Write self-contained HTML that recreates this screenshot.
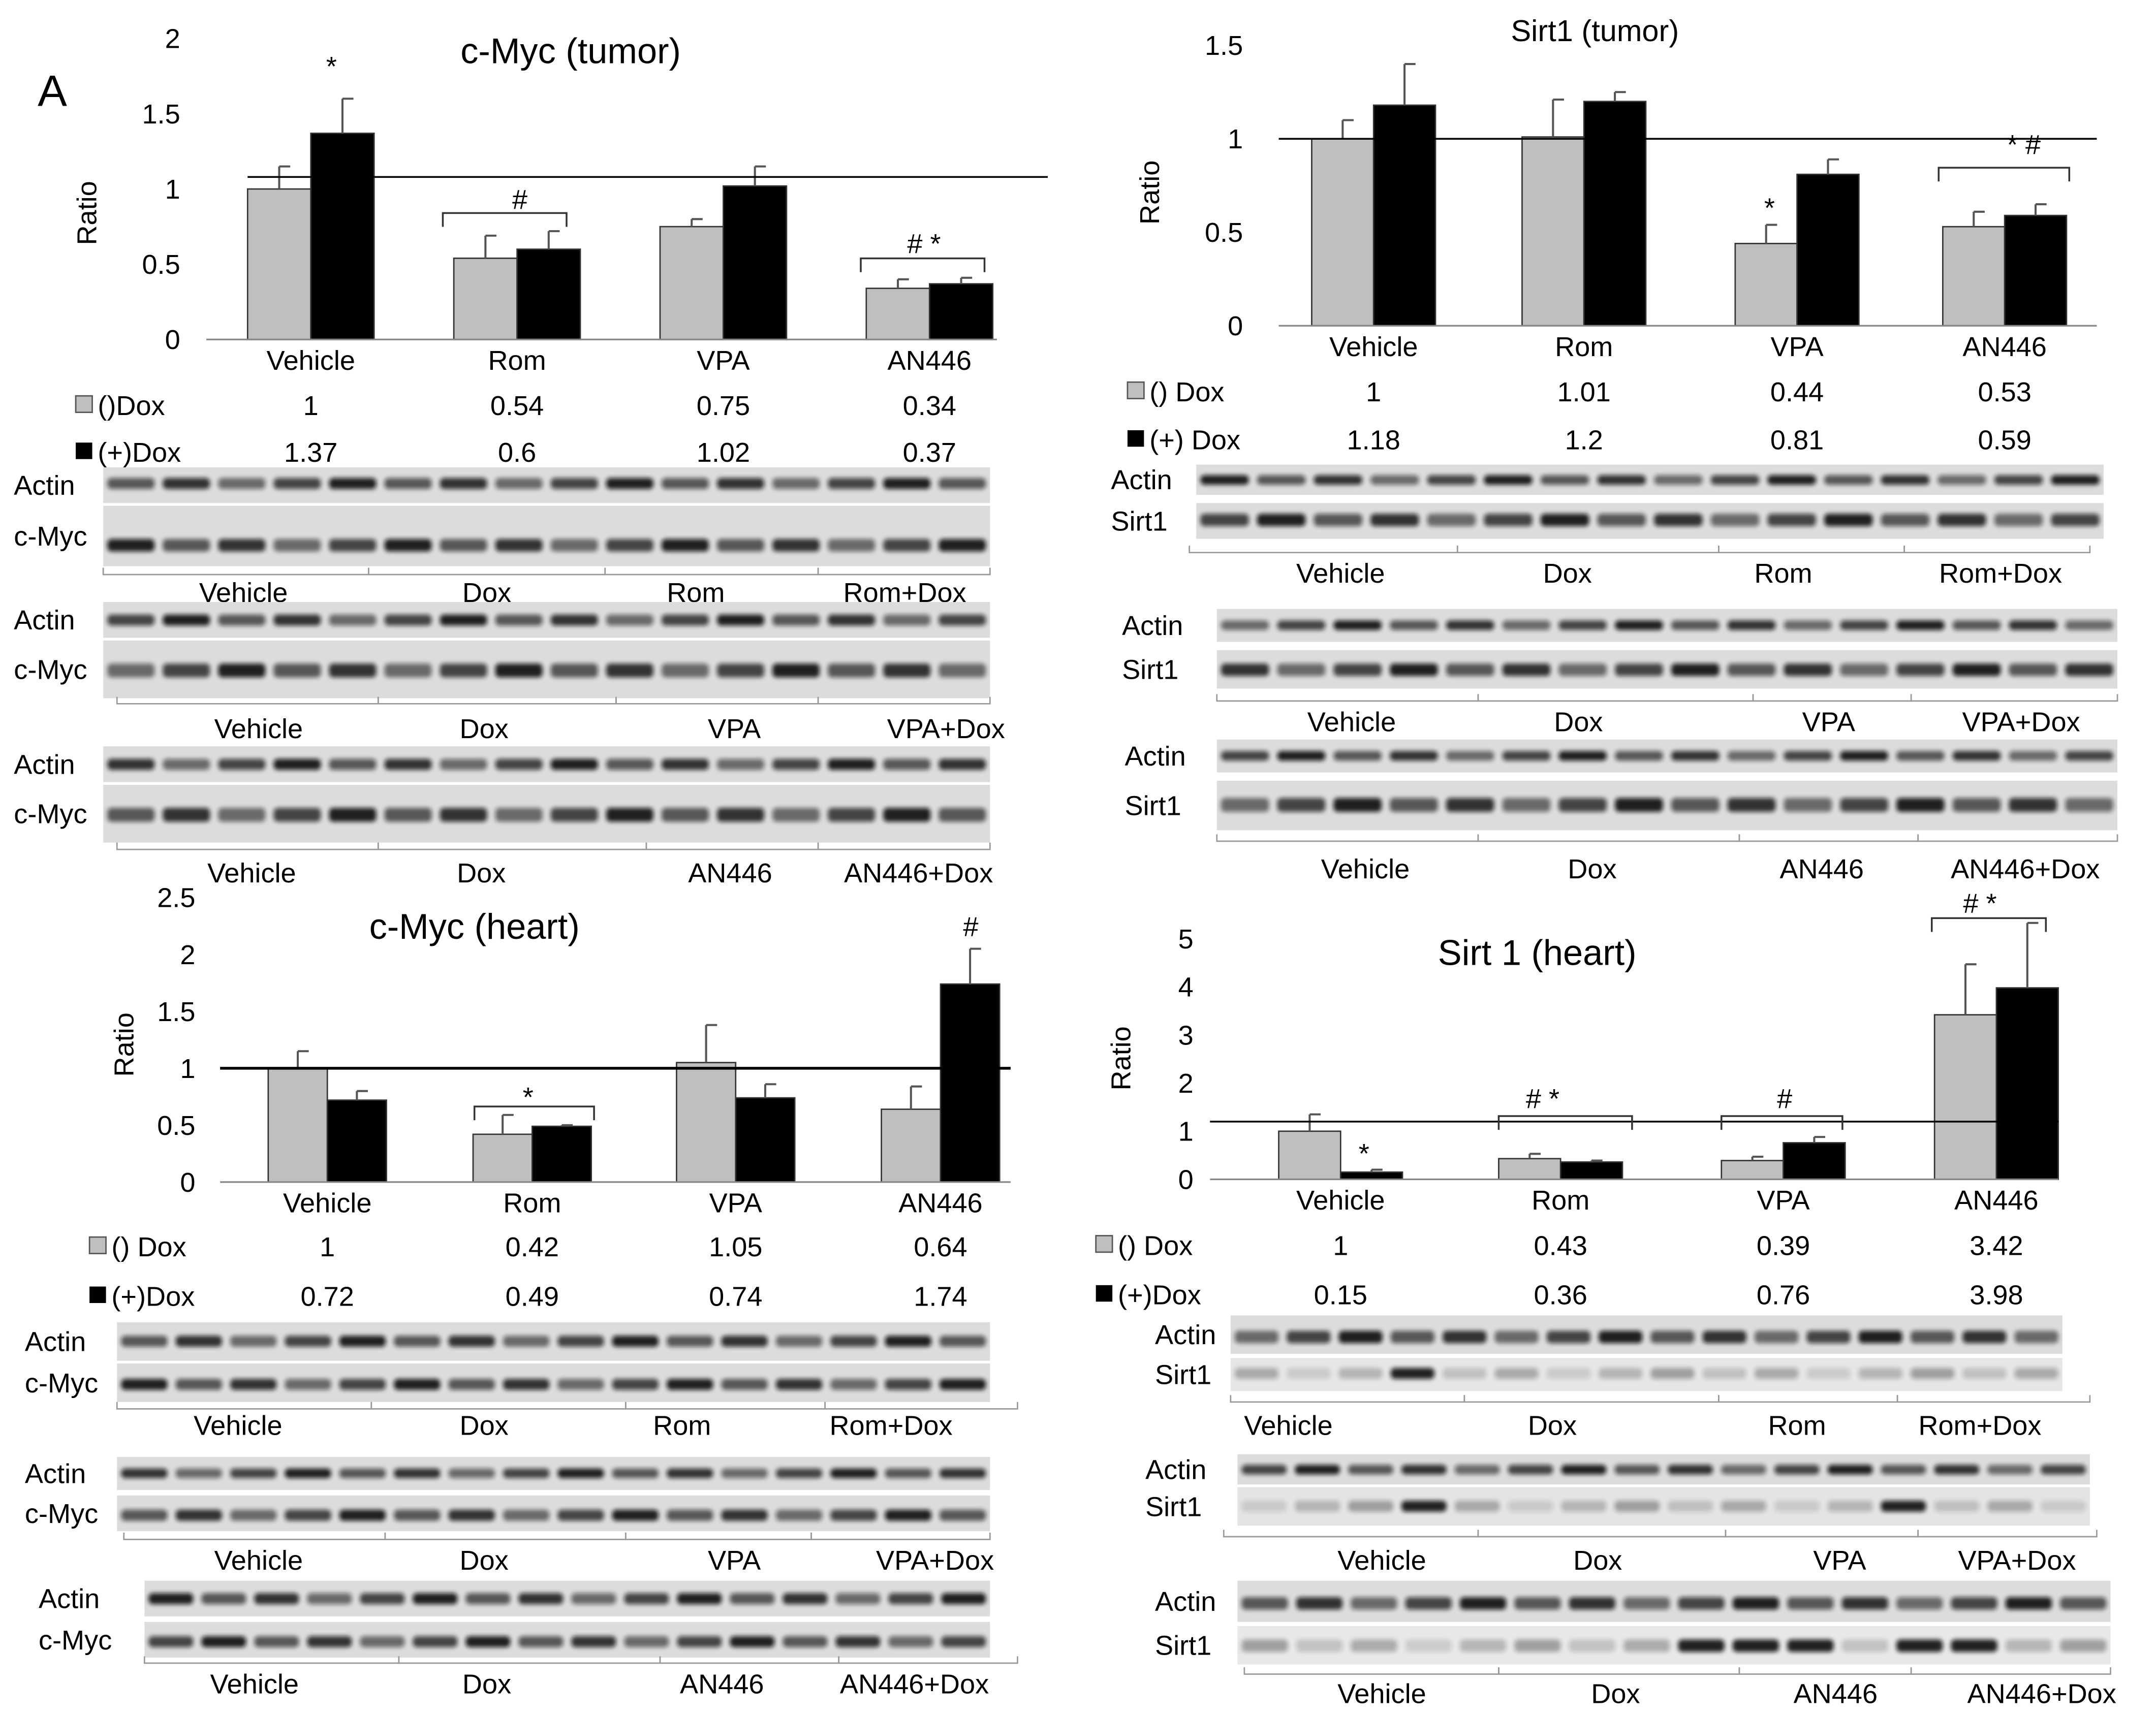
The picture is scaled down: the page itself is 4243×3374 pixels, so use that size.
<!DOCTYPE html>
<html><head><meta charset="utf-8"><title>c-Myc and Sirt1 figure</title>
<style>html,body{margin:0;padding:0;background:#fff}svg{display:block;font-family:"Liberation Sans",Arial,sans-serif}</style>
</head><body>
<svg id="fig" xmlns="http://www.w3.org/2000/svg" width="4243" height="3374" viewBox="0 0 1568 1247">
<defs><filter id="blur" x="-20%" y="-50%" width="140%" height="200%"><feGaussianBlur stdDeviation="1.6"/></filter></defs>
</svg>
<script>
// ---- chart data ----
const categories = ["Vehicle","Rom","VPA","AN446"];
const mycTumorNeg = [1,0.54,0.75,0.34];
const mycTumorPos = [1.37,0.6,1.02,0.37];
const mycTumorNegErr = [0.15,0.15,0.05,0.06];
const mycTumorPosErr = [0.23,0.12,0.13,0.04];
const mycTumorTicks = [0,0.5,1,1.5,2];
const mycTumorRef = 1.08;
const sirtTumorNeg = [1,1.01,0.44,0.53];
const sirtTumorPos = [1.18,1.2,0.81,0.59];
const sirtTumorNegErr = [0.1,0.2,0.1,0.08];
const sirtTumorPosErr = [0.22,0.05,0.08,0.06];
const sirtTumorTicks = [0,0.5,1,1.5];
const sirtTumorRef = 1.0;
const mycHeartNeg = [1,0.42,1.05,0.64];
const mycHeartPos = [0.72,0.49,0.74,1.74];
const mycHeartNegErr = [0.15,0.17,0.33,0.2];
const mycHeartPosErr = [0.08,0.01,0.12,0.31];
const mycHeartTicks = [0,0.5,1,1.5,2,2.5];
const mycHeartRef = 1.0;
const sirtHeartNeg = [1,0.43,0.39,3.42];
const sirtHeartPos = [0.15,0.36,0.76,3.98];
const sirtHeartNegErr = [0.35,0.1,0.08,1.05];
const sirtHeartPosErr = [0.05,0.03,0.12,1.35];
const sirtHeartTicks = [0,1,2,3,4,5];
const sirtHeartRef = 1.2;

const NS="http://www.w3.org/2000/svg";
const svg=document.getElementById('fig');
function mk(tag,a,parent){const e=document.createElementNS(NS,tag);for(const k in a)e.setAttribute(k,a[k]);(parent||svg).appendChild(e);return e;}
function txt(x,y,s,size,anchor,parent){const t=mk('text',{x:x,y:y,'font-size':size,'text-anchor':anchor||'middle',fill:'#000'},parent);t.textContent=s;return t;}

function chart(cfg){
  const g=mk('g',{});
  
  
  const y=v=>cfg.y0-(v-cfg.ticks[0])/(cfg.ticks[cfg.ticks.length-1]-cfg.ticks[0])*(cfg.y0-cfg.yTop);
  cfg.ticks.forEach(t=>{
    const l=txt(cfg.tickX,y(t)+7,String(t),cfg.fs,'end',g);
    
    
  });
  const yl=txt(0,0,'Ratio',cfg.fs,'middle',g);
  yl.setAttribute('transform',`translate(${cfg.ratioX},${cfg.ratioY}) rotate(-90)`);
  
  
  const tt=txt(cfg.titleX,cfg.titleY,cfg.title,cfg.titleFs,'middle',g);
  
  
  categories.forEach((c,i)=>{
    const cx=cfg.cx[i];
    [[cfg.neg,cfg.negErr,'#bfbfbf',-1],[cfg.pos,cfg.posErr,'#000',0]].forEach(([vals,errs,col,off])=>{
      const x=cx+off*cfg.bw;const v=vals[i];
      const r=mk('rect',{x:x,y:y(v),width:cfg.bw,height:cfg.y0-y(v),fill:col,stroke:'#333','stroke-width':1},g);
      
      
      const ex=x+cfg.bw/2+ (off<0?0:0);
      const e=mk('path',{d:`M${ex} ${y(v)} V${y(v+errs[i])} M${ex} ${y(v+errs[i])} H${ex+8}`,stroke:'#555','stroke-width':1.5,fill:'none'},g);
      
      
    });
    const cl=txt(cx,cfg.y0+22,c,cfg.fs,'middle',g);
    
    
    const n=txt(cfg.cx[i],cfg.row1,String(cfg.neg[i]),cfg.fs,'middle',g);
    
    
    const p=txt(cfg.cx[i],cfg.row2,String(cfg.pos[i]),cfg.fs,'middle',g);
    
    
  });
  const base=mk('line',{x1:cfg.axisX,x2:cfg.axisEnd,y1:cfg.y0,y2:cfg.y0,stroke:'#888','stroke-width':1.2},g);
  
  
  const ref=mk('line',{x1:cfg.refX1,x2:cfg.refX2,y1:y(cfg.ref),y2:y(cfg.ref),stroke:'#000','stroke-width':cfg.refW},g);
  
  
  // legend
  const s1=mk('rect',{x:cfg.legX,y:cfg.row1-14,width:12,height:12,fill:'#bfbfbf',stroke:'#555'},g);
  
  
  const l1=txt(cfg.legX+16,cfg.row1,cfg.leg1,cfg.fs,'start',g);
  
  
  const s2=mk('rect',{x:cfg.legX,y:cfg.row2-14,width:12,height:12,fill:'#000'},g);
  
  
  const l2=txt(cfg.legX+16,cfg.row2,cfg.leg2,cfg.fs,'start',g);
  
  
  // annotations
  (cfg.ann||[]).forEach(a=>{
    if(a.b){const b=mk('path',{d:`M${a.x1} ${a.y+10} V${a.y} H${a.x2} V${a.y+10}`,stroke:'#333',fill:'none','stroke-width':1.3},g);
      
      }
    const t=txt(a.tx,a.ty,a.s,cfg.fs,'middle',g);
    
    
  });
}

chart({name:'chart-cmyc-tumor',title:'c-Myc (tumor)',titleX:415,titleY:46,titleFs:26,ticks:mycTumorTicks,y0:247,yTop:28,tickX:131,ratioX:70,ratioY:155,
 cx:[226,376,526,676],bw:46,neg:mycTumorNeg,pos:mycTumorPos,negErr:mycTumorNegErr,posErr:mycTumorPosErr,ref:mycTumorRef,refX1:180,refX2:762,refW:1.3,
 axisX:150,axisEnd:725,row1:302,row2:336,legX:55,leg1:'()Dox',leg2:'(+)Dox',fs:20,
 ann:[{s:'*',tx:241,ty:55},{b:1,x1:322,x2:412,y:155,s:'#',tx:378,ty:152},{b:1,x1:626,x2:716,y:188,s:'#   *',tx:672,ty:184}]});
chart({name:'chart-sirt1-tumor',title:'Sirt1 (tumor)',titleX:1160,titleY:30,titleFs:22,ticks:sirtTumorTicks,y0:237,yTop:33,tickX:904,ratioX:843,ratioY:140,
 cx:[999,1152,1307,1458],bw:45,neg:sirtTumorNeg,pos:sirtTumorPos,negErr:sirtTumorNegErr,posErr:sirtTumorPosErr,ref:sirtTumorRef,refX1:930,refX2:1525,refW:1.3,
 axisX:930,axisEnd:1525,row1:292,row2:327,legX:820,leg1:'() Dox',leg2:'(+) Dox',fs:20,
 ann:[{s:'*',tx:1287,ty:158},{b:1,x1:1410,x2:1505,y:122,s:'* #',tx:1472,ty:112}]});
chart({name:'chart-cmyc-heart',title:'c-Myc (heart)',titleX:345,titleY:683,titleFs:26,ticks:mycHeartTicks,y0:860,yTop:653,tickX:142,ratioX:97,ratioY:760,
 cx:[238,387,535,684],bw:43,neg:mycHeartNeg,pos:mycHeartPos,negErr:mycHeartNegErr,posErr:mycHeartPosErr,ref:mycHeartRef,refX1:160,refX2:735,refW:2,
 axisX:160,axisEnd:735,row1:914,row2:950,legX:65,leg1:'() Dox',leg2:'(+)Dox',fs:20,
 ann:[{b:1,x1:345,x2:432,y:805,s:'*',tx:384,ty:805},{s:'#',tx:706,ty:681}]});
chart({name:'chart-sirt1-heart',title:'Sirt 1 (heart)',titleX:1118,titleY:702,titleFs:26,ticks:sirtHeartTicks,y0:858,yTop:683,tickX:868,ratioX:822,ratioY:770,
 cx:[975,1135,1297,1452],bw:45,neg:sirtHeartNeg,pos:sirtHeartPos,negErr:sirtHeartNegErr,posErr:sirtHeartPosErr,ref:sirtHeartRef,refX1:880,refX2:1497,refW:1.3,
 axisX:880,axisEnd:1497,row1:913,row2:949,legX:797,leg1:'  () Dox',leg2:'(+)Dox',fs:20,
 ann:[{s:'*',tx:992,ty:846},{b:1,x1:1090,x2:1187,y:812,s:'# *',tx:1122,ty:806},{b:1,x1:1252,x2:1340,y:812,s:'#',tx:1298,ty:806},{b:1,x1:1405,x2:1488,y:668,s:'#    *',tx:1440,ty:664}]});

const A=txt(38,77,'A',32,'middle');



// ---- western blots (decorative) ----
function blot(b){
  const g=mk('g',{});
  
  
  b.strips.forEach((s,si)=>{
    const r=mk('rect',{x:b.x1,y:s.y,width:b.x2-b.x1,height:s.h,fill:s.bg},g);
    
    
    const lw=(b.x2-b.x1)/16;
    for(let i=0;i<16;i++){
      const k=(i*7+si*3+b.seed)%5;
      const op=s.faint? (s.strong&&s.strong.includes(i)?0.9:0.12+0.05*k) : 0.55+0.09*k;
      const bd=mk('rect',{x:b.x1+i*lw+3,y:s.y+s.h*s.band,width:lw-6,height:s.bh,rx:3,fill:'#111',opacity:op,filter:'url(#blur)'},g);
      
      
    }
    const lab=txt(b.labX,s.y+s.h/2+7,s.label,20,'start',g);
    
    
  });
  const by=b.brY;const segs=b.segs;
  for(let i=0;i<4;i++){
    const p=mk('path',{d:`M${segs[i]} ${by-5} V${by} H${segs[i+1]} V${by-5}`,stroke:'#999',fill:'none','stroke-width':1},g);
    
    
    const t=txt(b.lx[i],b.ly,b.names[i],20,'middle',g);
    
    
  }
}
const rom=['Vehicle','Dox','Rom','Rom+Dox'],vpa=['Vehicle','Dox','VPA','VPA+Dox'],an=['Vehicle','Dox','AN446','AN446+Dox'];
function S(label,y,h,band,bh,bg,faint,strong){return {label,y,h,band,bh,bg,faint,strong};}
const BG='#dcdcdc';
blot({x1:75,x2:720,labX:10,seed:1,strips:[S('Actin',340,26,0.3,8,BG),S('c-Myc',368,44,0.55,9,BG)],brY:418,segs:[75,268,440,595,720],lx:[177,354,506,658],ly:438,names:rom});
blot({x1:75,x2:720,labX:10,seed:2,strips:[S('Actin',438,26,0.35,8,BG),S('c-Myc',466,42,0.4,10,BG)],brY:512,segs:[85,275,448,595,720],lx:[188,352,534,688],ly:537,names:vpa});
blot({x1:75,x2:720,labX:10,seed:3,strips:[S('Actin',543,26,0.35,8,BG),S('c-Myc',571,42,0.4,10,BG)],brY:618,segs:[85,275,470,595,720],lx:[183,350,531,668],ly:642,names:an});
blot({x1:870,x2:1530,labX:808,seed:4,strips:[S('Actin',338,22,0.35,7,BG),S('Sirt1',366,26,0.3,9,BG)],brY:402,segs:[865,1060,1250,1385,1520],lx:[975,1140,1297,1455],ly:424,names:rom});
blot({x1:885,x2:1540,labX:816,seed:0,strips:[S('Actin',443,24,0.35,7,BG),S('Sirt1',473,28,0.35,9,BG)],brY:510,segs:[885,1075,1275,1390,1540],lx:[983,1148,1330,1470],ly:532,names:vpa});
blot({x1:885,x2:1540,labX:818,seed:2,strips:[S('Actin',538,24,0.35,7,BG),S('Sirt1',568,36,0.35,10,BG)],brY:612,segs:[885,1075,1265,1395,1540],lx:[993,1158,1325,1473],ly:639,names:an});
blot({x1:85,x2:720,labX:18,seed:1,strips:[S('Actin',962,28,0.35,8,BG),S('c-Myc',992,28,0.4,8,BG)],brY:1025,segs:[85,270,455,600,740],lx:[173,352,496,648],ly:1044,names:rom});
blot({x1:85,x2:720,labX:18,seed:3,strips:[S('Actin',1060,24,0.35,7,BG),S('c-Myc',1088,26,0.4,8,BG)],brY:1120,segs:[90,280,455,590,720],lx:[188,352,534,680],ly:1142,names:vpa});
blot({x1:105,x2:720,labX:28,seed:4,strips:[S('Actin',1150,26,0.35,8,BG),S('c-Myc',1180,26,0.4,8,BG)],brY:1210,segs:[105,290,480,610,740],lx:[185,354,525,665],ly:1232,names:an});
blot({x1:895,x2:1500,labX:840,seed:0,strips:[S('Actin',957,28,0.4,9,BG),S('Sirt1',988,24,0.3,8,'#e6e6e6',true,[3])],brY:1020,segs:[895,1065,1250,1380,1520],lx:[937,1129,1307,1440],ly:1044,names:rom});
blot({x1:900,x2:1520,labX:833,seed:2,strips:[S('Actin',1058,22,0.35,7,BG),S('Sirt1',1082,28,0.35,8,'#e4e4e4',true,[3,12])],brY:1118,segs:[890,1075,1255,1395,1525],lx:[1005,1162,1338,1467],ly:1142,names:vpa});
blot({x1:900,x2:1535,labX:840,seed:1,strips:[S('Actin',1150,30,0.4,9,BG),S('Sirt1',1183,28,0.35,9,'#e8e8e8',true,[8,9,10,12,13])],brY:1218,segs:[905,1090,1265,1390,1535],lx:[1005,1175,1335,1485],ly:1239,names:an});
</script>
</body></html>
